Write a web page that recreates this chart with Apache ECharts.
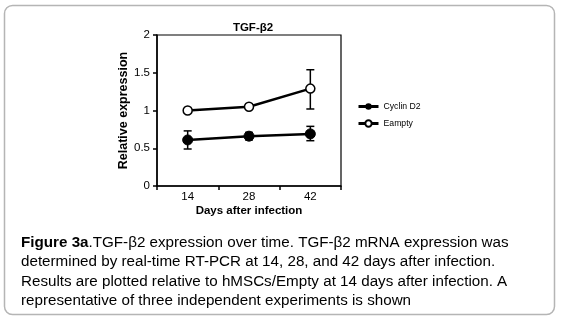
<!DOCTYPE html>
<html>
<head>
<meta charset="utf-8">
<script src="https://cdn.jsdelivr.net/npm/echarts@6/dist/echarts.min.js"></script>
<style>
  html, body { margin: 0; padding: 0; background: #fff; }
  #chart { width: 562px; height: 319px; }
</style>
</head>
<body>
<div id="chart"></div>
<script>
const days = ["14", "28", "42"];
const yTicks = [0, 0.5, 1, 1.5, 2];

const cyclinMean = [0.61, 0.66, 0.69];
const cyclinLow = [0.49, 0.61, 0.6];
const cyclinHigh = [0.73, 0.71, 0.79];

const emptyMean = [1.0, 1.05, 1.29];
const emptyLow = [0.98, 1.02, 1.02];
const emptyHigh = [1.02, 1.08, 1.54];

const captionLines = [
  "{b|Figure 3a}.TGF-β2 expression over time. TGF-β2 mRNA expression was",
  "determined by real-time RT-PCR at 14, 28, and 42 days after infection.",
  "Results are plotted relative to hMSCs/Empty at 14 days after infection. A",
  "representative of three independent experiments is shown",
];

const FONT = "Arial, 'Liberation Sans', sans-serif";

function errorBars(low, high) {
  return low.map((l, i) => [i, l, high[i]]);
}

function renderErr(params, api) {
  const lo = api.coord([api.value(0), api.value(1)]);
  const hi = api.coord([api.value(0), api.value(2)]);
  const w = 4;
  const style = { stroke: "#000", lineWidth: 1.5 };
  return {
    type: "group",
    children: [
      { type: "line", shape: { x1: lo[0], y1: lo[1], x2: hi[0], y2: hi[1] }, style },
      { type: "line", shape: { x1: lo[0] - w, y1: lo[1], x2: lo[0] + w, y2: lo[1] }, style },
      { type: "line", shape: { x1: hi[0] - w, y1: hi[1], x2: hi[0] + w, y2: hi[1] }, style },
    ],
  };
}

const chart = echarts.init(document.getElementById("chart"));

const option = {
  animation: false,
  textStyle: { fontFamily: FONT },
  title: {
    text: "TGF-β2",
    left: 248,
    textAlign: "center",
    top: 17,
    textStyle: { fontSize: 11.5, fontWeight: "bold", color: "#000", fontFamily: FONT },
  },
  grid: { left: 157, right: 221, top: 35, bottom: 133, show: true, borderColor: "#000", borderWidth: 1.2 },
  xAxis: {
    type: "category",
    data: days,
    boundaryGap: true,
    name: "Days after infection",
    nameLocation: "middle",
    nameGap: 19,
    nameTextStyle: { fontSize: 11.5, fontWeight: "bold", color: "#000", fontFamily: FONT },
    axisLine: { lineStyle: { color: "#000", width: 1.5 } },
    axisTick: { show: true, length: 4, lineStyle: { color: "#000", width: 1.5 } },
    axisLabel: { fontSize: 11.5, color: "#000", margin: 5, fontFamily: FONT },
    splitLine: { show: false },
  },
  yAxis: {
    type: "value",
    min: yTicks[0],
    max: yTicks[yTicks.length - 1],
    interval: 0.5,
    name: "Relative expression",
    nameLocation: "middle",
    nameGap: 27,
    nameTextStyle: { fontSize: 12.5, fontWeight: "bold", color: "#000", fontFamily: FONT },
    axisLine: { show: true, lineStyle: { color: "#000", width: 1.5 } },
    axisTick: { show: true, length: 4, lineStyle: { color: "#000", width: 1.5 } },
    axisLabel: { fontSize: 11.5, color: "#000", margin: 7, fontFamily: FONT },
    splitLine: { show: false },
  },
  legend: {
    orient: "vertical",
    left: 357,
    top: 102,
    padding: 0,
    itemWidth: 20,
    itemHeight: 8,
    itemGap: 8,
    data: ["Cyclin D2", "Eampty"],
    lineStyle: { width: 3 },
    textStyle: { fontSize: 8.7, color: "#000", fontFamily: FONT },
  },
  series: [
    {
      name: "Cyclin D2",
      type: "line",
      data: cyclinMean,
      symbol: "circle",
      symbolSize: 10,
      lineStyle: { color: "#000", width: 2.5 },
      itemStyle: { color: "#000", borderColor: "#000" },
      z: 3,
    },
    {
      name: "Eampty",
      type: "line",
      data: emptyMean,
      symbol: "circle",
      symbolSize: 9,
      lineStyle: { color: "#000", width: 2.5 },
      itemStyle: { color: "#fff", borderColor: "#000", borderWidth: 1.5 },
      z: 3,
    },
    {
      type: "custom",
      data: errorBars(cyclinLow, cyclinHigh),
      renderItem: renderErr,
      z: 2,
      silent: true,
    },
    {
      type: "custom",
      data: errorBars(emptyLow, emptyHigh),
      renderItem: renderErr,
      z: 2,
      silent: true,
    },
  ],
  graphic: [
    {
      type: "rect",
      shape: { x: 4.5, y: 5.5, width: 550, height: 309, r: 8 },
      style: { fill: "none", stroke: "#b5b5b5", lineWidth: 1.5 },
      z: -1,
    },
    {
      type: "text",
      left: 21,
      top: 233,
      style: {
        text: captionLines.join("\n"),
        fontSize: 15.2,
        fontFamily: FONT,
        fill: "#000",
        lineHeight: 19.5,
        rich: {
          b: { fontSize: 15.2, fontWeight: "bold", fontFamily: FONT, fill: "#000", lineHeight: 19.5 },
        },
      },
    },
  ],
};

chart.setOption(option);
</script>
</body>
</html>
